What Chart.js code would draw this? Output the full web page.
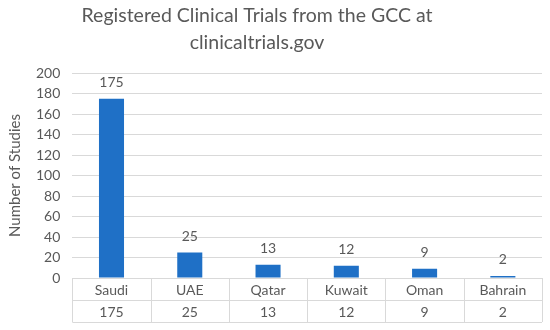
<!DOCTYPE html>
<html><head><meta charset="utf-8">
<script src="https://cdn.jsdelivr.net/npm/chart.js@4"></script>
<style>html,body{margin:0;padding:0;background:#fff}#w{width:550px;height:330px}</style>
</head><body><div id="w"><canvas id="c"></canvas></div>
<script>
const titleLines = ['Registered Clinical Trials from the GCC at', 'clinicaltrials.gov'];
const categories = ['Saudi', 'UAE', 'Qatar', 'Kuwait', 'Oman', 'Bahrain'];
const studies = [175, 25, 13, 12, 9, 2];
const yTicks = [0, 20, 40, 60, 80, 100, 120, 140, 160, 180, 200];
const yTitle = 'Number of Studies';

const FONT = 'Lato, "Open Sans", sans-serif';
const TXT = '#595959';
const GRID = '#d9d9d9';

const extras = {
  id: 'extras',
  afterDatasetsDraw(chart) {
    const ctx = chart.ctx, ca = chart.chartArea, xs = chart.scales.x, ys = chart.scales.y;
    ctx.save();
    ctx.fillStyle = TXT;
    ctx.textAlign = 'center';
    // title
    ctx.font = '19.5px ' + FONT;
    ctx.textBaseline = 'middle';
    ctx.fillText(titleLines[0], 257, 16);
    ctx.fillText(titleLines[1], 257, 43);
    // data labels
    ctx.font = '14px ' + FONT;
    ctx.textBaseline = 'bottom';
    studies.forEach((v, i) => {
      ctx.fillText(String(v), xs.getPixelForValue(i), ys.getPixelForValue(v) - 9);
    });
    // data table
    const rowH = 22;
    const top = ca.bottom, left = ca.left, right = ca.right;
    const step = (right - left) / categories.length;
    ctx.strokeStyle = GRID;
    ctx.lineWidth = 1;
    ctx.beginPath();
    for (let r = 0; r <= 2; r++) {
      const y = Math.round(top + r * rowH) + 0.5;
      ctx.moveTo(left, y); ctx.lineTo(right, y);
    }
    for (let i = 0; i <= categories.length; i++) {
      const x = Math.round(left + i * step) + 0.5;
      ctx.moveTo(x, top); ctx.lineTo(x, top + 2 * rowH);
    }
    ctx.stroke();
    ctx.textBaseline = 'middle';
    categories.forEach((c, i) => {
      const x = xs.getPixelForValue(i);
      ctx.fillText(c, x, top + rowH / 2 + 1);
      ctx.fillText(String(studies[i]), x, top + rowH * 1.5 + 1);
    });
    ctx.restore();
  }
};

new Chart(document.getElementById('c'), {
  type: 'bar',
  data: {
    labels: categories,
    datasets: [{
      data: studies,
      backgroundColor: '#1f70c6',
      borderWidth: 0,
      categoryPercentage: 1,
      barPercentage: 0.32
    }]
  },
  options: {
    responsive: true,
    maintainAspectRatio: false,
    animation: false,
    layout: { padding: { top: 73, bottom: 52, right: 8, left: 6 } },
    plugins: { legend: { display: false }, title: { display: false }, tooltip: { enabled: false } },
    scales: {
      x: { display: false },
      y: {
        min: 0, max: 200,
        afterBuildTicks(axis) { axis.ticks = yTicks.map(v => ({ value: v })); },
        grid: { color: GRID, drawTicks: false, lineWidth: 1 },
        border: { display: false },
        ticks: { color: TXT, font: { family: FONT, size: 14 }, padding: 12 },
        title: { display: true, text: yTitle, color: TXT, font: { family: FONT, size: 15 }, padding: { top: 0, bottom: 0 } }
      }
    }
  },
  plugins: [extras]
});
</script>
</body></html>
